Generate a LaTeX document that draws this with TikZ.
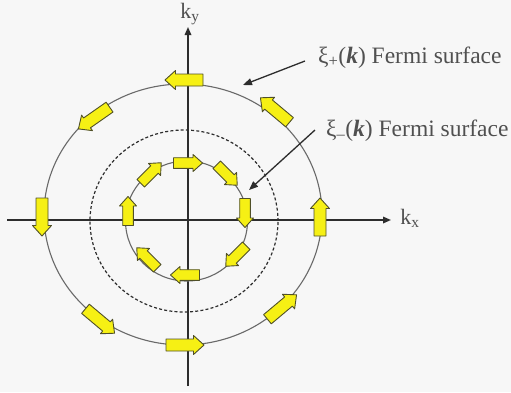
\documentclass[tikz,border=0pt]{standalone}
\usepackage{fontspec}
\setmainfont{Liberation Serif}
\usetikzlibrary{arrows.meta}
\definecolor{bg}{RGB}{247,247,247}
\definecolor{axiscol}{RGB}{45,45,45}
\definecolor{circcol}{RGB}{105,105,105}
\definecolor{yfill}{RGB}{246,240,20}
\definecolor{yedge}{RGB}{80,80,40}
\definecolor{txtcol}{RGB}{80,80,80}
\tikzset{
  axisline/.style={draw=axiscol,line width=1.6bp,-{Triangle[length=8bp,width=6.5bp]}},
  ringline/.style={draw=circcol,line width=1.1bp},
  dashring/.style={draw=axiscol,line width=1.2bp,dash pattern=on 3bp off 2.2bp},
  pointer/.style={draw=axiscol,line width=1.3bp,-{Triangle[length=9bp,width=7bp]}},
  yarr/.style={fill=yfill,draw=yedge,line width=0.9bp,line join=round},
  axlabel/.style={text=txtcol,font=\fontsize{22bp}{26bp}\selectfont,inner sep=0pt},
  fermilabel/.style={text=txtcol,font=\fontsize{23.5bp}{28bp}\selectfont,inner sep=0pt,anchor=base west}
}
\newcommand\outarrow[3]{\filldraw[yarr,shift={(#1,-#2)},rotate=#3] (-19,-6) -- (8.5,-6) -- (8.5,-9.5) -- (19,0) -- (8.5,9.5) -- (8.5,6) -- (-19,6) -- cycle;}
\newcommand\inarrow[3]{\filldraw[yarr,shift={(#1,-#2)},rotate=#3] (-14.5,-5.3) -- (5,-5.3) -- (5,-8.5) -- (14.5,0) -- (5,8.5) -- (5,5.3) -- (-14.5,5.3) -- cycle;}
\begin{document}
\begin{tikzpicture}[x=1bp,y=1bp]
\fill[bg] (0,0) rectangle (511,-392);
\useasboundingbox (0,0) rectangle (511,-392);
% axes
\coordinate (xs) at (7,-220);
\coordinate (xe) at (391,-220);
\coordinate (ys) at (188,-386);
\coordinate (ye) at (188,-27);
\draw[axisline] (xs) -- (xe);
\draw[axisline] (ys) -- (ye);
\node[axlabel] (kx) at (410,-218) {k\textsubscript{x}};
\node[axlabel] (ky) at (190,-14) {k\textsubscript{y}};
% rings
\draw[ringline] (183,-214.5) ellipse [x radius=139, y radius=130.5];
\draw[dashring] (184,-221) ellipse [x radius=94, y radius=91];
\draw[ringline] (186.5,-221) ellipse [x radius=61, y radius=60];
% outer arrows (counterclockwise)
\outarrow{184}{80}{180}
\outarrow{94}{118}{215}
\outarrow{42}{217}{270}
\outarrow{100}{321}{320}
\outarrow{185}{345}{0}
\outarrow{282}{307}{40}
\outarrow{320}{217}{90}
\outarrow{275}{110}{140}
% inner arrows (clockwise)
\inarrow{188}{163}{0}
\inarrow{227}{175}{-45}
\inarrow{245}{213}{270}
\inarrow{236}{256}{225}
\inarrow{185}{275}{180}
\inarrow{147}{258}{135}
\inarrow{128}{211}{90}
\inarrow{151}{173}{45}
% labels
\node[fermilabel] (lp) at (318,-63) {ξ\textsubscript{+}(\textbf{\textit{k}}) Fermi surface};
\node[fermilabel] (lm) at (326,-136) {ξ\textsubscript{–}(\textbf{\textit{k}}) Fermi surface};
\coordinate (pa) at (305,-61);
\coordinate (pb) at (243,-85);
\coordinate (ma) at (315,-130);
\coordinate (mb) at (249,-190);
\draw[pointer] (pa) -- (pb);
\draw[pointer] (ma) -- (mb);
\end{tikzpicture}
\end{document}
